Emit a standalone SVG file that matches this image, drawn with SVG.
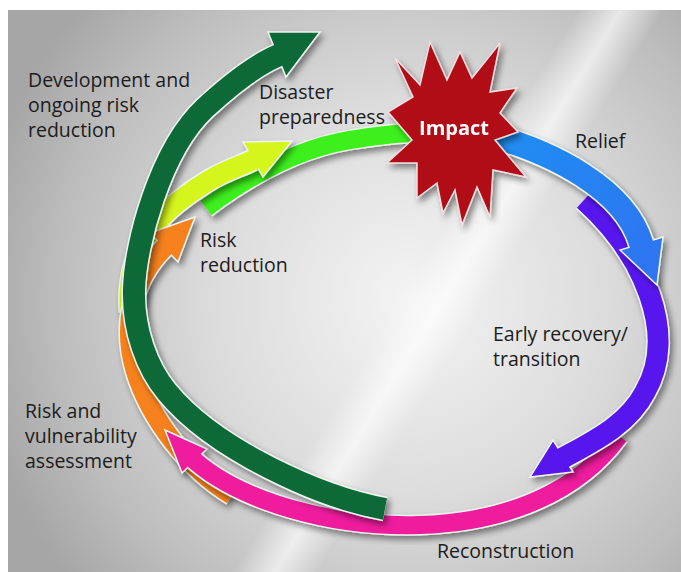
<svg xmlns="http://www.w3.org/2000/svg" width="681" height="572" viewBox="0 0 681 572">
<defs>
<radialGradient id="bg" cx="410" cy="300" r="440" gradientUnits="userSpaceOnUse">
<stop offset="0" stop-color="#f4f4f4"/>
<stop offset="0.45" stop-color="#dcdcdc"/>
<stop offset="0.8" stop-color="#bdbdbd"/>
<stop offset="1" stop-color="#a6a6a6"/>
</radialGradient>
<linearGradient id="streak" gradientUnits="userSpaceOnUse" x1="300" y1="240" x2="560" y2="400">
<stop offset="0" stop-color="#fff" stop-opacity="0"/>
<stop offset="0.38" stop-color="#fff" stop-opacity="0"/>
<stop offset="0.5" stop-color="#fff" stop-opacity="0.65"/>
<stop offset="0.62" stop-color="#fff" stop-opacity="0"/>
<stop offset="1" stop-color="#fff" stop-opacity="0"/>
</linearGradient>
<linearGradient id="blueg" gradientUnits="userSpaceOnUse" x1="500" y1="135" x2="660" y2="285">
<stop offset="0" stop-color="#1f8ef2"/>
<stop offset="1" stop-color="#2f72f0"/>
</linearGradient>
<filter id="sh" x="-20%" y="-20%" width="140%" height="140%">
<feDropShadow dx="3" dy="4" stdDeviation="3" flood-color="#000" flood-opacity="0.45"/>
</filter>
<style>
.t{font-family:"Open Sans","Noto Sans","DejaVu Sans",sans-serif;font-size:19.5px;fill:#1c1c1c}
.imp{font-family:"Open Sans","Noto Sans","DejaVu Sans",sans-serif;font-size:20px;font-weight:bold;fill:#ffffff}
.ol{fill:none;stroke:#eef5ee;stroke-linecap:butt;stroke-linejoin:round}
.sf{fill:none;stroke-linecap:butt;stroke-linejoin:round}
.hd{stroke:#eef5ee;stroke-width:1.5;stroke-linejoin:miter}
</style>
</defs>

<rect x="8" y="10" width="673" height="562" fill="url(#bg)"/>
<rect x="8" y="10" width="673" height="562" fill="url(#streak)"/>

<g id="connectors">
<g id="arrow-preparedness" filter="url(#sh)">
<path class="ol" stroke-width="21" d="M206,208 C250,175 300,148 350,140 S410,133 432,133"/>
<path class="sf" stroke="#3def1a" stroke-width="18" d="M206,208 C250,175 300,148 350,140 S410,133 432,133"/>
</g>
<g id="arrow-risk-reduction" filter="url(#sh)">
<path class="ol" stroke-width="23" d="M130,312 C127,270 140,232 178,202 S232,170 253,160"/>
<polygon class="hd" fill="#d6f51c" points="243,142 292,141 263,177"/>
<path class="sf" stroke="#d6f51c" stroke-width="20" d="M130,312 C127,270 140,232 178,202 S232,170 253,160 l3,-1.5"/>
</g>
<g id="arrow-assessment" filter="url(#sh)">
<path class="ol" stroke-width="22" d="M232,495 C190,470 150,420 135,370 C122,325 132,280 164,248"/>
<polygon class="hd" fill="#f7811c" points="150,233 195,217 178,262"/>
<path class="sf" stroke="#f7811c" stroke-width="19" d="M232,495 C190,470 150,420 135,370 C122,325 132,280 164,248 l2,-2"/>
</g>
<g id="arrow-reconstruction" filter="url(#sh)">
<path class="ol" stroke-width="21" d="M619,436 C580,490 510,522 420,525 C330,528 240,500 195,461"/>
<polygon class="hd" fill="#ef1c9e" points="207,449 165,430 182,473"/>
<path class="sf" stroke="#ef1c9e" stroke-width="18" d="M619,436 C580,490 510,522 420,525 C330,528 240,500 195,461 l-2,-2"/>
</g>
<g id="arrow-recovery" filter="url(#sh)">
<path class="ol" stroke-width="24" d="M584,200 C645,255 678,335 645,392 C628,425 592,442 563,458"/>
<polygon class="hd" fill="#5912ef" points="553,440 530,477 573,472"/>
<path class="sf" stroke="#5912ef" stroke-width="21" d="M584,200 C645,255 678,335 645,392 C628,425 592,442 563,458 l-2,1"/>
</g>
<g id="arrow-relief" filter="url(#sh)">
<path class="ol" stroke-width="27" d="M482,133 C555,152 625,190 641,243"/>
<polygon class="hd" fill="url(#blueg)" points="620,250 657,285 663,237"/>
<path class="sf" stroke="url(#blueg)" stroke-width="24" d="M482,133 C555,152 625,190 641,243 l1,3"/>
</g>
<g id="arrow-development" filter="url(#sh)">
<path class="ol" stroke-width="25" d="M385,509 C320,497 215,450 167,392 C147,368 133,330 134,290 C135,245 160,150 205,108 C232,83 255,65 279,55"/>
<polygon class="hd" fill="#0b6a37" points="268,32 320,32 286,77"/>
<path class="sf" stroke="#0b6a37" stroke-width="22" d="M385,509 C320,497 215,450 167,392 C147,368 133,330 134,290 C135,245 160,150 205,108 C232,83 255,65 279,55 l2,-1"/>
</g>
</g>

<g id="node-impact" filter="url(#sh)">
<polygon fill="#b00d18" stroke="#f3dede" stroke-width="1.5" stroke-linejoin="miter" points="395,58 420,85 430,42 447,80 460,52 472,78 500,43 490,92 517,88 500,113 518,132 495,140 526,177 493,170 490,217 477,187 462,225 455,190 443,213 437,183 417,198 417,163 387,163 412,140 388,112 413,97"/>
<text class="imp" x="454" y="135" text-anchor="middle">Impact</text>
</g>

<g id="labels">
<g id="label-development"><text class="t" x="28" y="87">Development and</text><text class="t" x="28" y="112">ongoing risk</text><text class="t" x="28" y="137">reduction</text></g>
<g id="label-preparedness"><text class="t" x="259" y="99">Disaster</text><text class="t" x="259" y="124">preparedness</text></g>
<g id="label-relief"><text class="t" x="575" y="148">Relief</text></g>
<g id="label-risk-reduction"><text class="t" x="200" y="247">Risk</text><text class="t" x="200" y="272">reduction</text></g>
<g id="label-recovery"><text class="t" x="493" y="341">Early recovery/</text><text class="t" x="493" y="366">transition</text></g>
<g id="label-assessment"><text class="t" x="25" y="418">Risk and</text><text class="t" x="25" y="443">vulnerability</text><text class="t" x="25" y="468">assessment</text></g>
<g id="label-reconstruction"><text class="t" x="437" y="558">Reconstruction</text></g>
</g>
</svg>
